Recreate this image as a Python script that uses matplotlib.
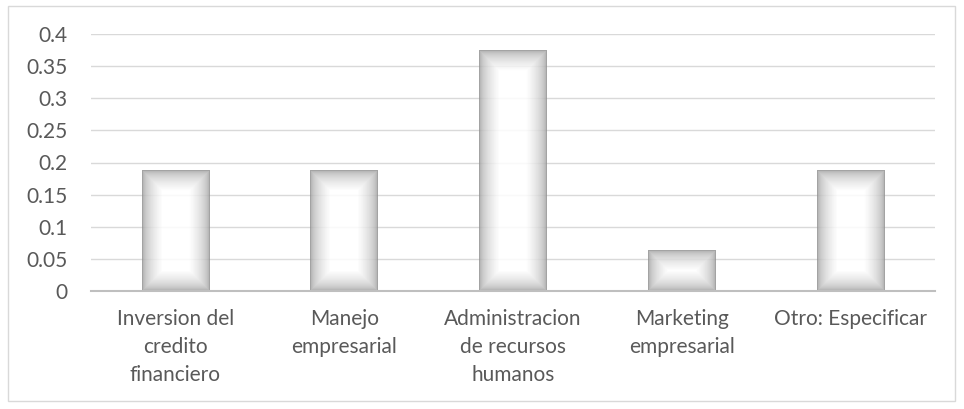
import numpy as np
import matplotlib.pyplot as plt
from matplotlib.patches import Rectangle

categories = ['Inversion del\ncredito\nfinanciero', 'Manejo\nempresarial',
              'Administracion\nde recursos\nhumanos', 'Marketing\nempresarial',
              'Otro: Especificar']
values = [0.1875, 0.1875, 0.375, 0.0625, 0.1875]
yticks = [0, 0.05, 0.1, 0.15, 0.2, 0.25, 0.3, 0.35, 0.4]

plt.rcParams['font.family'] = ['Lato', 'DejaVu Sans']

fig = plt.figure(figsize=(9.64, 4.09), dpi=100)
ax = fig.add_axes([91 / 964, 1 - 291 / 409, 844 / 964, 257 / 409])
fig.patches.append(Rectangle((8 / 964, 8 / 409), 947 / 964, 395 / 409,
                             transform=fig.transFigure, fill=False,
                             edgecolor='#d9d9d9', lw=1))

ax.set_xlim(-0.5, len(values) - 0.5)
ax.set_ylim(0, 0.4)
ax.set_yticks(yticks)
ax.set_yticklabels([f'{v:g}' for v in yticks])
ax.yaxis.grid(True, color='#d9d9d9', lw=1)
ax.set_axisbelow(True)
for s in ['top', 'right', 'left']:
    ax.spines[s].set_visible(False)
ax.spines['bottom'].set_color('#bfbfbf')
ax.spines['bottom'].set_linewidth(1.5)
ax.tick_params(axis='both', length=0, labelsize=15, labelcolor='#595959')
ax.tick_params(axis='y', pad=17)
ax.tick_params(axis='x', pad=13)
ax.set_xticks(range(len(categories)))
ax.set_xticklabels(categories, linespacing=1.5, va='top')

width = 0.4
px_per_x = 844 / len(values)
px_per_y = 257 / 0.4
fade = 20.0
for i, v in enumerate(values):
    wpx = width * px_per_x
    hpx = v * px_per_y
    nx, ny = int(wpx) + 1, int(hpx) + 1
    xx = np.linspace(0, wpx, nx)
    yy = np.linspace(0, hpx, ny)
    dx = np.minimum(xx, wpx - xx) / fade
    dy = np.minimum(yy, hpx - yy) / fade
    t = np.clip(np.minimum(dx[None, :], dy[:, None]), 0, 1)
    t = np.sqrt(t)
    g = 0.58 + (1 - 0.58) * t
    rgba = np.zeros((ny, nx, 4))
    rgba[..., 0] = g
    rgba[..., 1] = g
    rgba[..., 2] = g
    rgba[..., 3] = 0.85
    ax.imshow(rgba, extent=(i - width / 2, i + width / 2, 0, v),
              aspect='auto', origin='lower', interpolation='bilinear', zorder=2)
ax.set_xlim(-0.5, len(values) - 0.5)
ax.set_ylim(0, 0.4)

fig.savefig('out.png', dpi=100)
